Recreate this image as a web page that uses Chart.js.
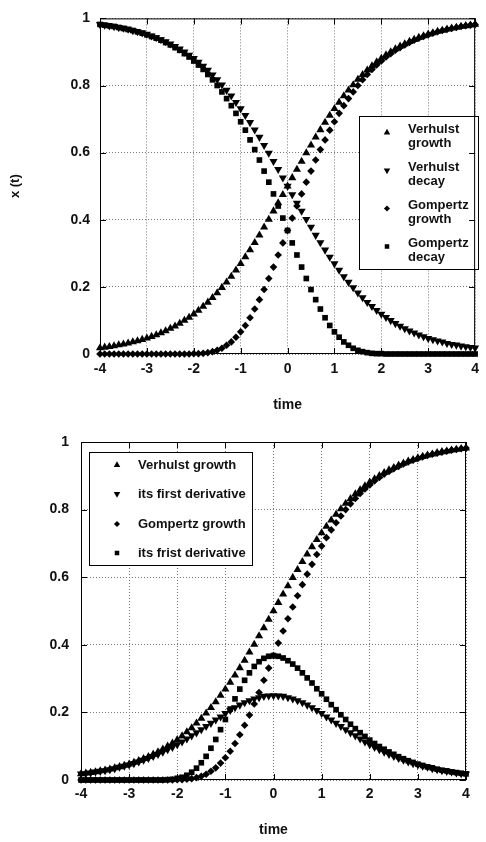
<!DOCTYPE html>
<html>
<head>
<meta charset="utf-8">
<script src="https://cdn.jsdelivr.net/npm/chart.js@4.4.1/dist/chart.umd.min.js"></script>
<style>
  html, body { margin: 0; padding: 0; background: #fff; }
  canvas { position: absolute; left: 0; }
  #chart1 { top: 0; }
  #chart2 { top: 420px; }
</style>
</head>
<body>
<canvas id="chart1" width="486" height="420"></canvas>
<canvas id="chart2" width="486" height="422"></canvas>
<script>
// time values (step 0.1)
const T = [
  -4.0, -3.9, -3.8, -3.7, -3.6, -3.5, -3.4, -3.3, -3.2, -3.1,
  -3.0, -2.9, -2.8, -2.7, -2.6, -2.5, -2.4, -2.3, -2.2, -2.1,
  -2.0, -1.9, -1.8, -1.7, -1.6, -1.5, -1.4, -1.3, -1.2, -1.1,
  -1.0, -0.9, -0.8, -0.7, -0.6, -0.5, -0.4, -0.3, -0.2, -0.1,
  0.0,
  0.1, 0.2, 0.3, 0.4, 0.5, 0.6, 0.7, 0.8, 0.9, 1.0,
  1.1, 1.2, 1.3, 1.4, 1.5, 1.6, 1.7, 1.8, 1.9, 2.0,
  2.1, 2.2, 2.3, 2.4, 2.5, 2.6, 2.7, 2.8, 2.9, 3.0,
  3.1, 3.2, 3.3, 3.4, 3.5, 3.6, 3.7, 3.8, 3.9, 4.0
];

const verhulstGrowth = [
  0.018, 0.020, 0.022, 0.024, 0.027, 0.029, 0.032, 0.036, 0.039, 0.043,
  0.047, 0.052, 0.057, 0.063, 0.069, 0.076, 0.083, 0.091, 0.100, 0.109,
  0.119, 0.130, 0.142, 0.154, 0.168, 0.182, 0.198, 0.214, 0.231, 0.250,
  0.269, 0.289, 0.310, 0.332, 0.354, 0.378, 0.401, 0.426, 0.450, 0.475,
  0.500,
  0.525, 0.550, 0.574, 0.599, 0.622, 0.646, 0.668, 0.690, 0.711, 0.731,
  0.750, 0.769, 0.786, 0.802, 0.818, 0.832, 0.846, 0.858, 0.870, 0.881,
  0.891, 0.900, 0.909, 0.917, 0.924, 0.931, 0.937, 0.943, 0.948, 0.953,
  0.957, 0.961, 0.964, 0.968, 0.971, 0.973, 0.976, 0.978, 0.980, 0.982
];

const verhulstDecay = [
  0.982, 0.980, 0.978, 0.976, 0.973, 0.971, 0.968, 0.964, 0.961, 0.957,
  0.953, 0.948, 0.943, 0.937, 0.931, 0.924, 0.917, 0.909, 0.900, 0.891,
  0.881, 0.870, 0.858, 0.846, 0.832, 0.818, 0.802, 0.786, 0.769, 0.750,
  0.731, 0.711, 0.690, 0.668, 0.646, 0.622, 0.599, 0.574, 0.550, 0.525,
  0.500,
  0.475, 0.450, 0.426, 0.401, 0.378, 0.354, 0.332, 0.310, 0.289, 0.269,
  0.250, 0.231, 0.214, 0.198, 0.182, 0.168, 0.154, 0.142, 0.130, 0.119,
  0.109, 0.100, 0.091, 0.083, 0.076, 0.069, 0.063, 0.057, 0.052, 0.047,
  0.043, 0.039, 0.036, 0.032, 0.029, 0.027, 0.024, 0.022, 0.020, 0.018
];

const gompertzGrowth = [
  0, 0, 0, 0, 0, 0, 0, 0, 0, 0,
  0, 0, 0, 0, 0, 0, 0, 0, 0, 0,
  0.001, 0.001, 0.002, 0.004, 0.007, 0.011, 0.017, 0.026, 0.036, 0.050,
  0.066, 0.085, 0.108, 0.134, 0.162, 0.192, 0.225, 0.259, 0.295, 0.331,
  0.368,
  0.405, 0.441, 0.477, 0.512, 0.545, 0.578, 0.609, 0.638, 0.667, 0.692,
  0.717, 0.740, 0.761, 0.781, 0.800, 0.817, 0.833, 0.848, 0.861, 0.873,
  0.885, 0.895, 0.905, 0.913, 0.921, 0.928, 0.935, 0.941, 0.946, 0.951,
  0.956, 0.960, 0.964, 0.967, 0.970, 0.973, 0.976, 0.978, 0.980, 0.982
];

const gompertzDecay = [
  0.982, 0.980, 0.978, 0.976, 0.973, 0.970, 0.967, 0.964, 0.960, 0.956,
  0.951, 0.946, 0.941, 0.935, 0.928, 0.921, 0.913, 0.905, 0.895, 0.885,
  0.873, 0.861, 0.848, 0.833, 0.817, 0.800, 0.781, 0.761, 0.740, 0.717,
  0.692, 0.667, 0.638, 0.609, 0.578, 0.545, 0.512, 0.477, 0.441, 0.405,
  0.368,
  0.331, 0.295, 0.259, 0.225, 0.192, 0.162, 0.134, 0.108, 0.085, 0.066,
  0.050, 0.036, 0.026, 0.017, 0.011, 0.007, 0.004, 0.002, 0.001, 0.001,
  0, 0, 0, 0, 0, 0, 0, 0, 0, 0,
  0, 0, 0, 0, 0, 0, 0, 0, 0, 0
];

const verhulstDeriv = [
  0.018, 0.019, 0.021, 0.024, 0.026, 0.028, 0.031, 0.034, 0.038, 0.041,
  0.045, 0.049, 0.054, 0.059, 0.064, 0.070, 0.076, 0.083, 0.090, 0.097,
  0.105, 0.113, 0.122, 0.131, 0.140, 0.149, 0.159, 0.168, 0.178, 0.187,
  0.197, 0.206, 0.214, 0.222, 0.229, 0.235, 0.240, 0.244, 0.248, 0.249,
  0.250,
  0.249, 0.248, 0.244, 0.240, 0.235, 0.229, 0.222, 0.214, 0.206, 0.197,
  0.187, 0.178, 0.168, 0.159, 0.149, 0.140, 0.131, 0.122, 0.113, 0.105,
  0.097, 0.090, 0.083, 0.076, 0.070, 0.064, 0.059, 0.054, 0.049, 0.045,
  0.041, 0.038, 0.034, 0.031, 0.028, 0.026, 0.024, 0.021, 0.019, 0.018
];

const gompertzDeriv = [
  0, 0, 0, 0, 0, 0, 0, 0, 0, 0,
  0, 0, 0, 0, 0, 0, 0, 0, 0.001, 0.002,
  0.005, 0.008, 0.014, 0.023, 0.035, 0.051, 0.070, 0.094, 0.120, 0.149,
  0.179, 0.210, 0.240, 0.269, 0.295, 0.317, 0.336, 0.350, 0.360, 0.366,
  0.368,
  0.366, 0.361, 0.353, 0.343, 0.331, 0.317, 0.302, 0.287, 0.270, 0.255,
  0.239, 0.223, 0.208, 0.193, 0.179, 0.165, 0.152, 0.140, 0.129, 0.118,
  0.108, 0.099, 0.091, 0.083, 0.076, 0.069, 0.063, 0.057, 0.052, 0.047,
  0.043, 0.039, 0.036, 0.032, 0.029, 0.027, 0.024, 0.022, 0.020, 0.018
];

const topLabels = [['Verhulst', 'growth'], ['Verhulst', 'decay'], ['Gompertz', 'growth'], ['Gompertz', 'decay']];
const bottomLabels = ['Verhulst growth', 'its first derivative', 'Gompertz growth', 'its frist derivative'];

Chart.defaults.font.family = "'Liberation Sans', Arial, sans-serif";
Chart.defaults.font.weight = 'bold';
Chart.defaults.color = '#111';

// marker styles: up triangle, down triangle, diamond, square
const markers = [
  { pointStyle: 'triangle', radius: 4.7, rotation: 0 },
  { pointStyle: 'triangle', radius: 4.7, rotation: 180 },
  { pointStyle: 'rectRot', radius: 3.8, rotation: 0 },
  { pointStyle: 'rect', radius: 4, rotation: 0 }
];

function makeDataset(label, ys, m) {
  return {
    label: label,
    data: T.map((t, i) => ({ x: t, y: ys[i] })),
    showLine: false,
    pointStyle: m.pointStyle,
    pointRadius: m.radius,
    pointRotation: m.rotation,
    pointBackgroundColor: '#000',
    pointBorderWidth: 0,
    clip: false
  };
}

// plot frame with inward ticks, like gnuplot
const framePlugin = {
  id: 'frame',
  afterDatasetsDraw(chart) {
    const { ctx, chartArea: a, scales: { x, y } } = chart;
    ctx.save();
    ctx.strokeStyle = '#000';
    ctx.lineWidth = 1;
    ctx.setLineDash([]);
    ctx.strokeRect(a.left + 0.5, a.top + 0.5, a.right - a.left - 1, a.bottom - a.top - 1);
    ctx.beginPath();
    x.ticks.forEach(t => {
      const px = Math.round(x.getPixelForValue(t.value)) + 0.5;
      ctx.moveTo(px, a.bottom); ctx.lineTo(px, a.bottom - 6);
      ctx.moveTo(px, a.top); ctx.lineTo(px, a.top + 6);
    });
    y.ticks.forEach(t => {
      const py = Math.round(y.getPixelForValue(t.value)) + 0.5;
      ctx.moveTo(a.left, py); ctx.lineTo(a.left + 6, py);
      ctx.moveTo(a.right, py); ctx.lineTo(a.right - 6, py);
    });
    ctx.stroke();
    ctx.restore();
  }
};

// legend box drawn inside the plot
const boxLegendPlugin = {
  id: 'boxLegend',
  afterDatasetsDraw(chart, args, o) {
    const ctx = chart.ctx;
    ctx.save();
    ctx.fillStyle = '#fff';
    ctx.fillRect(o.left, o.top, o.width, o.height);
    ctx.strokeStyle = '#000';
    ctx.lineWidth = 1;
    ctx.setLineDash([]);
    ctx.strokeRect(o.left + 0.5, o.top + 0.5, o.width, o.height);
    ctx.font = 'bold 13px "Liberation Sans", Arial, sans-serif';
    ctx.textBaseline = 'middle';
    ctx.textAlign = 'left';
    chart.data.datasets.forEach((ds, i) => {
      const y0 = o.rows[i];
      const lines = Array.isArray(ds.label) ? ds.label : [ds.label];
      ctx.fillStyle = '#111';
      lines.forEach((line, j) => ctx.fillText(line, o.textX, y0 + j * o.lineGap));
      ctx.fillStyle = '#000';
      Chart.helpers.drawPoint(ctx, {
        pointStyle: ds.pointStyle,
        radius: ds.pointRadius * 0.8,
        rotation: ds.pointRotation,
        borderWidth: 0
      }, o.markerX, y0 + o.markerDy);
    });
    ctx.restore();
  }
};

function makeOptions(c) {
  return {
    responsive: false,
    animation: false,
    events: [],
    layout: { padding: { top: c.padTop, right: c.padRight, left: 0, bottom: 0 } },
    plugins: {
      legend: { display: false },
      tooltip: { enabled: false },
      boxLegend: c.legend
    },
    scales: {
      x: {
        type: 'linear',
        min: -4,
        max: 4,
        ticks: { stepSize: 1, padding: c.xTickPad, font: { size: 14, weight: 'bold' }, color: '#111' },
        grid: { color: '#777', lineWidth: 1, drawTicks: false },
        border: { display: false, dash: [1, 2] },
        title: {
          display: true, text: 'time', color: '#111',
          font: { size: 14, weight: 'bold' },
          padding: { top: 0, bottom: c.xTitlePad }
        },
        afterFit: s => { s.height = c.xHeight; }
      },
      y: {
        type: 'linear',
        min: 0,
        max: 1,
        ticks: {
          stepSize: 0.2, padding: c.yTickPad, font: { size: 14, weight: 'bold' }, color: '#111',
          callback: v => String(Math.round(v * 10) / 10)
        },
        grid: { color: '#777', lineWidth: 1, drawTicks: false },
        border: { display: false, dash: [1, 2] },
        title: {
          display: !!c.yTitle, text: c.yTitle || '', color: '#111',
          font: { size: 13, weight: 'bold' },
          padding: { top: 8, bottom: 0 }
        },
        afterFit: s => { s.width = c.yWidth; }
      }
    }
  };
}

new Chart(document.getElementById('chart1'), {
  type: 'scatter',
  data: {
    datasets: [
      makeDataset(topLabels[0], verhulstGrowth, markers[0]),
      makeDataset(topLabels[1], verhulstDecay, markers[1]),
      makeDataset(topLabels[2], gompertzGrowth, markers[2]),
      makeDataset(topLabels[3], gompertzDecay, markers[3])
    ]
  },
  options: makeOptions({
    padTop: 16, padRight: 2, xHeight: 66, yWidth: 100,
    xTickPad: 7, yTickPad: 10, xTitlePad: 6, yTitle: 'x (t)',
    legend: { left: 359, top: 116, width: 119, height: 153, markerX: 387, textX: 408,
              rows: [129, 167, 205, 243], lineGap: 14.5, markerDy: 3.5 }
  }),
  plugins: [boxLegendPlugin, framePlugin]
});

new Chart(document.getElementById('chart2'), {
  type: 'scatter',
  data: {
    datasets: [
      makeDataset(bottomLabels[0], verhulstGrowth, markers[0]),
      makeDataset(bottomLabels[1], verhulstDeriv, markers[1]),
      makeDataset(bottomLabels[2], gompertzGrowth, markers[2]),
      makeDataset(bottomLabels[3], gompertzDeriv, markers[3])
    ]
  },
  options: makeOptions({
    padTop: 22, padRight: 20, xHeight: 62, yWidth: 81,
    xTickPad: 6, yTickPad: 12, xTitlePad: 3, yTitle: null,
    legend: { left: 89, top: 32, width: 163, height: 113, markerX: 117, textX: 138,
              rows: [45, 74, 104, 133], lineGap: 0, markerDy: 0 }
  }),
  plugins: [boxLegendPlugin, framePlugin]
});
</script>
</body>
</html>
